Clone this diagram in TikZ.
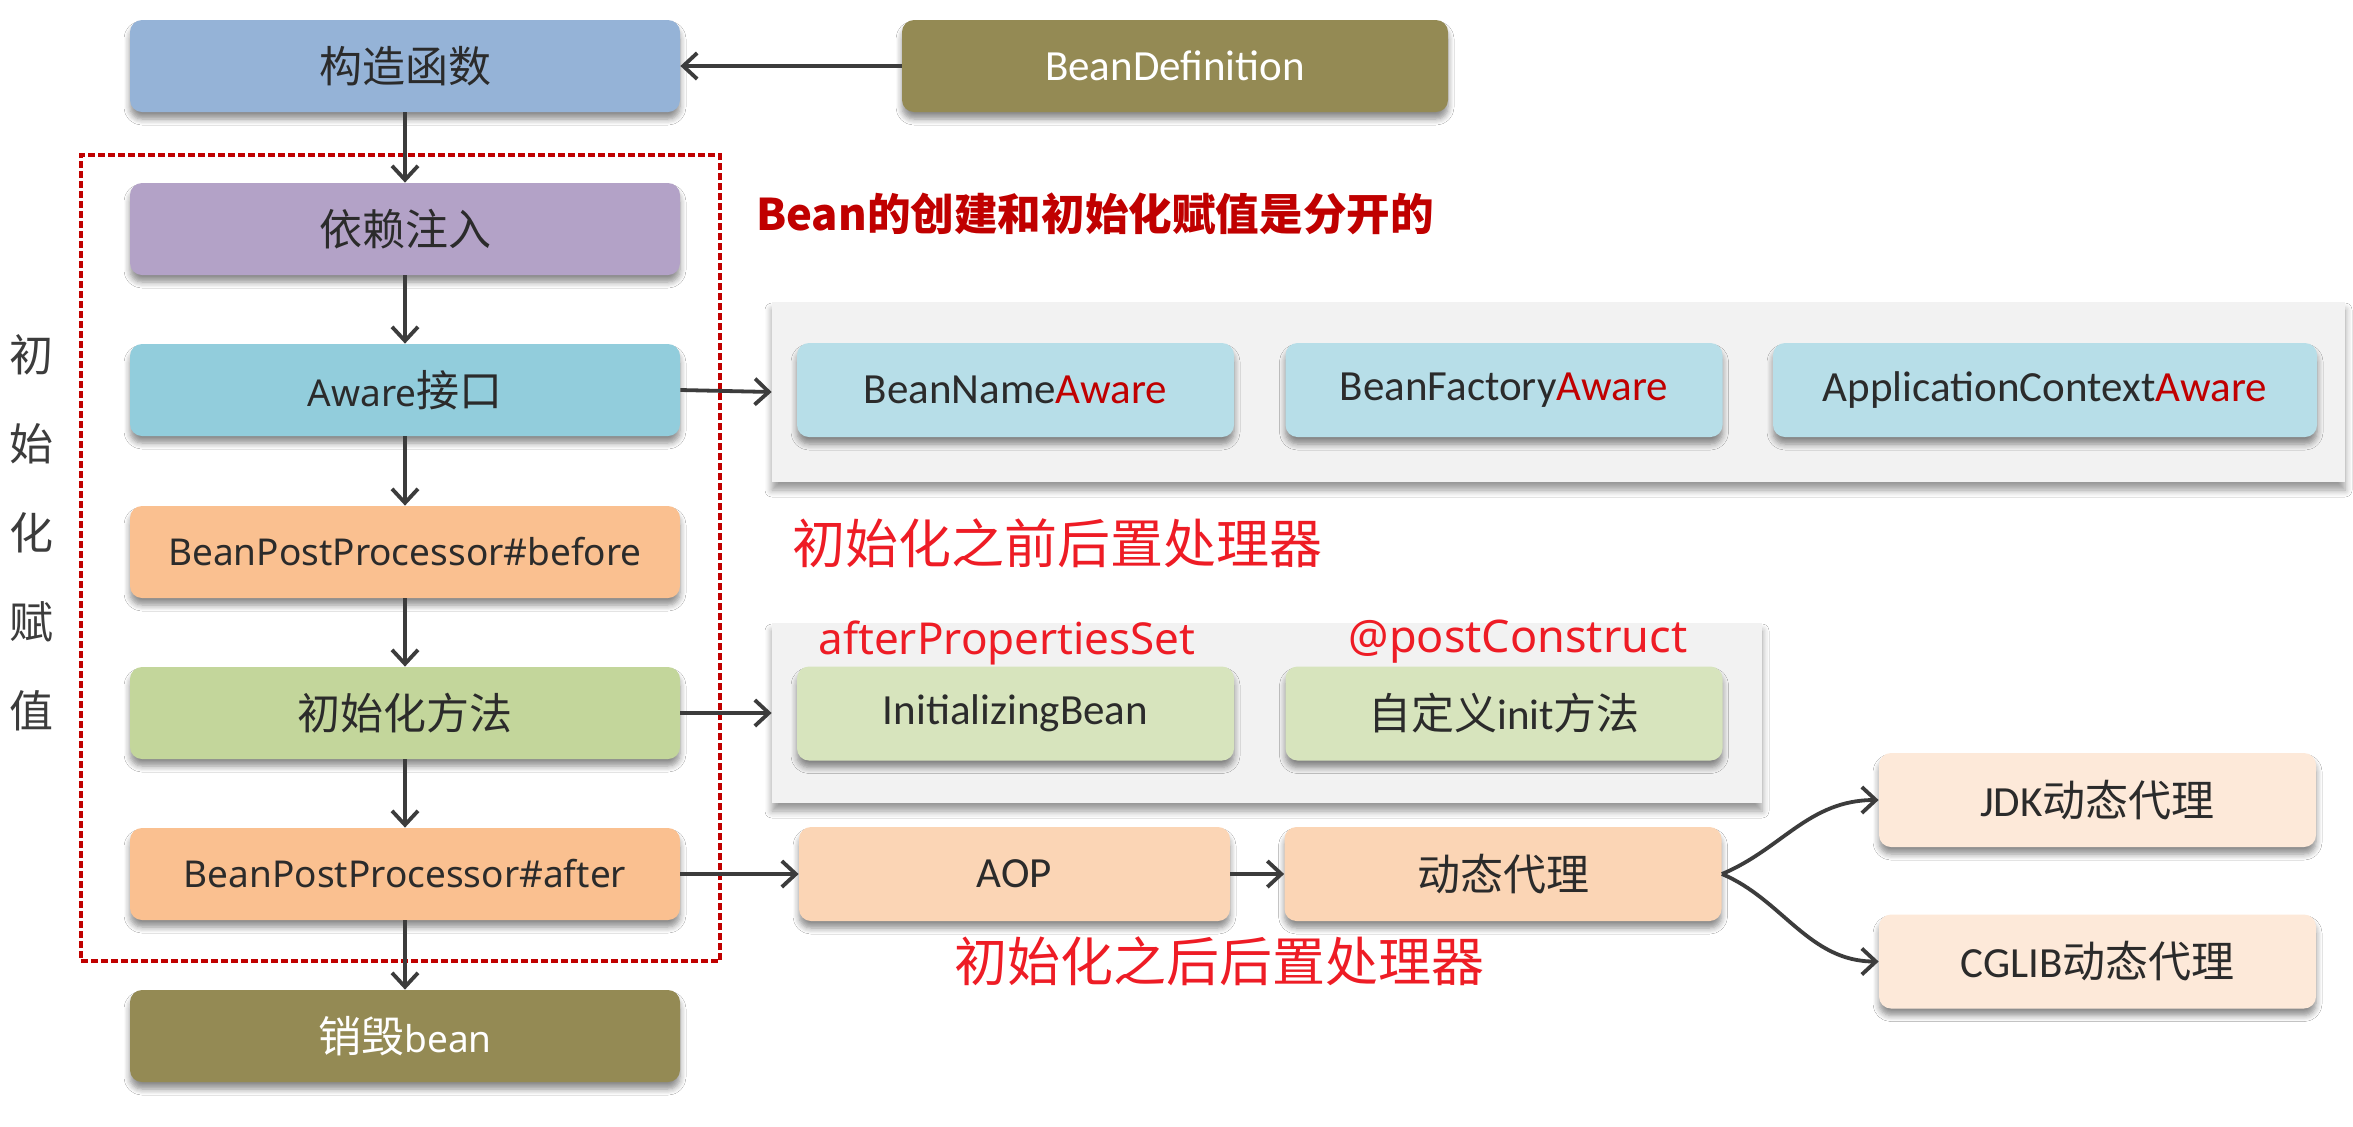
\documentclass[tikz,border=0pt]{standalone}
\usepackage{fontspec}
\setmainfont{Noto Sans}
\newfontfamily\cjk{Noto Sans CJK SC}
\newfontfamily\carlito{Carlito}
\usetikzlibrary{arrows.meta,shadows,shadows.blur}
\definecolor{ctorC}{HTML}{95B3D7}
\definecolor{oliveC}{HTML}{948A54}
\definecolor{purpleC}{HTML}{B3A2C7}
\definecolor{awareC}{HTML}{92CDDC}
\definecolor{bppC}{HTML}{FAC090}
\definecolor{initC}{HTML}{C3D69B}
\definecolor{panelC}{HTML}{F2F2F2}
\definecolor{awareIn}{HTML}{B7DEE8}
\definecolor{initIn}{HTML}{D7E4BD}
\definecolor{aopC}{HTML}{FBD5B5}
\definecolor{proxyC}{HTML}{FDE9D9}
\definecolor{txtC}{HTML}{2B2B2B}
\definecolor{darkRed}{HTML}{C00000}
\definecolor{brightRed}{HTML}{EE1C25}
\definecolor{arrC}{HTML}{3C3C3C}
\newcommand\cjkM{\cjk\fontsize{21.5}{24}\selectfont}
\begin{document}
\begin{tikzpicture}[x=0.5pt,y=-0.5pt,
  shad/.style={blur shadow={shadow xshift=0pt,shadow yshift=-3.5pt,shadow blur radius=3pt,shadow blur steps=6,shadow opacity=45}},
  box/.style={rounded corners=6pt, inner sep=0pt, minimum width=275pt, minimum height=46pt,
    text=txtC, font=\fontsize{18.5}{22}\selectfont, shad},
  sbox/.style={rounded corners=6pt, inner sep=0pt, minimum width=218.5pt, minimum height=47pt,
    text=txtC, font=\carlito\fontsize{21.5}{24}\selectfont, shad},
  panel/.style={fill=panelC, inner sep=0pt, minimum height=90pt,
    blur shadow={shadow xshift=0pt,shadow yshift=-4pt,shadow blur radius=3.5pt,shadow blur steps=6,shadow opacity=40}},
  arr/.style={draw=arrC, line width=1.9pt, -{Straight Barb[length=7pt,width=13pt,line width=1.9pt]}},
  note/.style={text=brightRed, inner sep=0pt},
  frame/.style={draw=darkRed, line width=1.7pt, dash pattern=on 3.5pt off 1.5pt, inner sep=0pt}
]
\fill[white] (0,0) rectangle (2353,1126);
\useasboundingbox (0,0) rectangle (2353,1126);

% main column
\node[box, fill=ctorC] (ctor) at (405,66) {\cjkM 构造函数};
\node[box, fill=oliveC, text=white, minimum width=273pt, font=\carlito\fontsize{21.5}{24}\selectfont] (bdef) at (1175,66) {BeanDefinition};
\node[box, fill=purpleC] (dep) at (405,229) {\cjkM 依赖注入};
\node[box, fill=awareC] (aware) at (405,390) {Aware{\cjkM 接口}};
\node[box, fill=bppC] (before) at (405,552) {BeanPostProcessor\#before};
\node[box, fill=initC] (init) at (405,713) {\cjkM 初始化方法};
\node[box, fill=bppC] (after) at (405,874) {BeanPostProcessor\#after};
\node[box, fill=oliveC, text=white] (destroy) at (405,1036) {{\cjkM 销毁}bean};

% dashed frame
\node[frame, minimum width=319.5pt, minimum height=403pt] (frm) at (400.5,558) {};

% side label
\node[text=arrC, align=center, inner sep=0pt, font=\cjk\fontsize{22}{44.5}\selectfont] (side) at (32,533) {初\\始\\化\\赋\\值};

% title
\node[text=darkRed, inner sep=0pt, font=\cjk\bfseries\fontsize{21.8}{24}\selectfont] (ttl) at (1095,214) {Bean的创建和初始化赋值是分开的};

% panel A
\node[panel, minimum width=786.5pt] (pA) at (1558.5,392) {};
\node[sbox, fill=awareIn] (bna) at (1015.5,390) {BeanName\textcolor{darkRed}{Aware}};
\node[sbox, fill=awareIn] (bfa) at (1504,390) {BeanFactory\textcolor{darkRed}{Aware}};
\node[sbox, fill=awareIn, minimum width=272pt] (aca) at (2045,390) {ApplicationContext\textcolor{darkRed}{Aware}};

\node[note, font=\cjk\fontsize{26.5}{30}\selectfont] (nBefore) at (1057,543) {初始化之前后置处理器};

% panel B
\node[panel, minimum width=495pt] (pB) at (1267,713) {};
\node[sbox, fill=initIn] (ib) at (1015.5,713.5) {InitializingBean};
\node[sbox, fill=initIn] (cust) at (1504,713.5) {{\cjk 自定义}init{\cjk 方法}};
\node[note, font=\fontsize{22}{24}\selectfont] (nAps) at (1007,643) {afterPropertiesSet};
\node[note, font=\fontsize{22.5}{24}\selectfont] (nPc) at (1518,642) {@postConstruct};

% AOP row
\node[sbox, fill=aopC, minimum width=215.5pt] (aop) at (1014.5,874) {AOP};
\node[sbox, fill=aopC] (dyn) at (1503,874) {\cjk 动态代理};
\node[sbox, fill=proxyC] (jdk) at (2097.5,800) {JDK{\cjk 动态代理}};
\node[sbox, fill=proxyC] (cglib) at (2097.5,961.5) {CGLIB{\cjk 动态代理}};
\node[note, font=\cjk\fontsize{26.5}{30}\selectfont] (nAfter) at (1219.5,961) {初始化之后后置处理器};

% connectors
\draw[arr] (bdef.west) -- (ctor.east);
\draw[arr] (ctor.south) -- (dep.north);
\draw[arr] (dep.south) -- (aware.north);
\draw[arr] (aware.south) -- (before.north);
\draw[arr] (before.south) -- (init.north);
\draw[arr] (init.south) -- (after.north);
\draw[arr] (after.south) -- (destroy.north);
\draw[arr] (aware.east) -- (pA.west);
\draw[arr] (init.east) -- (pB.west);
\draw[arr] (after.east) -- (aop.west);
\draw[arr] (aop.east) -- (dyn.west);
\draw[arr] (dyn.east) .. controls +(60,-25) and +(-70,0) .. (jdk.west);
\draw[arr] (dyn.east) .. controls +(60,25) and +(-70,0) .. (cglib.west);
\end{tikzpicture}
\end{document}
